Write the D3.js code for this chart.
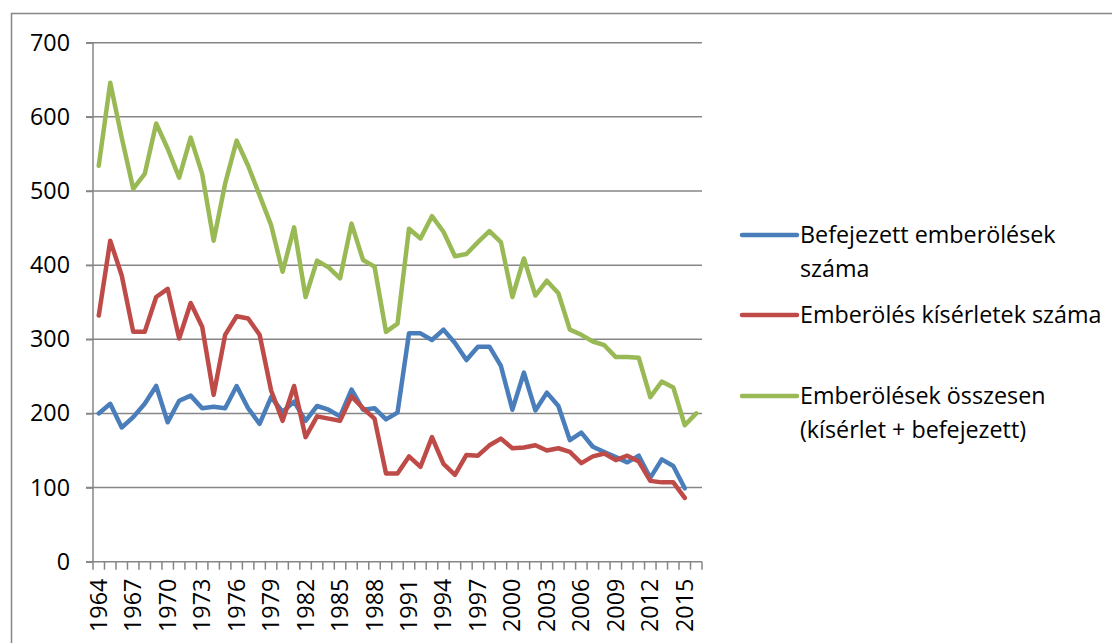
<!DOCTYPE html>
<html>
<head>
<meta charset="utf-8">
<script src="https://d3js.org/d3.v7.min.js"></script>
<style>
  body { margin: 0; background: #fff; }
  svg { display: block; font-family: "Open Sans", "Noto Sans", sans-serif; }
</style>
</head>
<body>
<svg width="1112" height="643"></svg>
<script>
// years on the category axis
var years = d3.range(1964, 2017);

// Befejezett emberölések száma (1964-2015)
var befejezett = [200, 213, 181, 195, 213, 237, 188, 217, 224, 207, 209, 207, 237, 207, 186, 222,
  202, 216, 190, 210, 205, 196, 232, 205, 207, 192, 201, 308, 308, 299, 313, 295, 272, 290, 290, 264,
  205, 255, 204, 228, 210, 164, 174, 155, 148, 141, 134, 143, 113, 138, 129, 99];

// Emberölés kísérletek száma (1964-2015)
var kiserlet = [332, 433, 386, 310, 310, 357, 368, 301, 349, 317, 225, 306, 331, 328, 306, 231,
  190, 237, 168, 196, 193, 190, 223, 207, 193, 119, 119, 142, 128, 168, 132, 117, 144, 143, 157, 166,
  153, 154, 157, 150, 153, 148, 133, 142, 146, 137, 143, 135, 109, 107, 107, 86];

// Emberölések összesen (1964-2016)
var osszesen = [534, 646, 572, 503, 523, 591, 557, 518, 572, 523, 433, 510, 568, 534, 494, 454,
  391, 451, 357, 406, 397, 382, 456, 407, 398, 310, 321, 449, 436, 466, 445, 412, 415, 431, 446, 431,
  357, 409, 359, 379, 362, 313, 306, 297, 292, 276, 276, 275, 222, 243, 235, 184, 200];

var yTicks = [0, 100, 200, 300, 400, 500, 600, 700];

var series = [
  { name: ['Befejezett emberölések', 'száma'], values: befejezett, color: '#4a7ebb' },
  { name: ['Emberölés kísérletek száma'], values: kiserlet, color: '#be4b48' },
  { name: ['Emberölések összesen', '(kísérlet + befejezett)'], values: osszesen, color: '#98b954' }
];

var FS = 23.3;
var svg = d3.select('svg');
var L = 93, R = 702, T = 42.7, B = 561.7;

// chart border (top and left visible)
svg.append('rect')
  .attr('x', 11.5).attr('y', 13.5)
  .attr('width', 1200).attr('height', 700)
  .attr('fill', 'none').attr('stroke', '#868686').attr('stroke-width', 1.5);

var x = d3.scaleBand().domain(years).range([L, R]);
var y = d3.scaleLinear().domain([0, 700]).range([B, T]);

// gridlines
svg.append('g')
  .selectAll('line').data(yTicks.filter(function (d) { return d > 0; }))
  .enter().append('line')
  .attr('x1', L - 7).attr('x2', R)
  .attr('y1', function (d) { return y(d); })
  .attr('y2', function (d) { return y(d); })
  .attr('stroke', '#868686').attr('stroke-width', 1.5);

// y axis
var yAxis = d3.axisLeft(y).tickValues(yTicks).tickSize(7).tickPadding(16);
var gy = svg.append('g').attr('transform', 'translate(' + L + ',0)').call(yAxis);
gy.select('.domain').attr('stroke', '#868686').attr('stroke-width', 1.5)
  .attr('d', 'M0,' + B + 'V' + T);
gy.selectAll('.tick line').attr('stroke', '#868686').attr('stroke-width', 1.5);
gy.selectAll('.tick text').attr('font-size', FS).attr('fill', '#000')
  .attr('font-family', '"Open Sans", "Noto Sans", sans-serif');

// x axis: ticks between categories
var boundaries = years.map(function (d) { return x(d); }).concat([R]);
var gx = svg.append('g');
gx.append('line')
  .attr('x1', L - 7).attr('x2', R)
  .attr('y1', B).attr('y2', B)
  .attr('stroke', '#868686').attr('stroke-width', 1.5);
gx.selectAll('line.tk').data(boundaries).enter().append('line')
  .attr('class', 'tk')
  .attr('x1', function (d) { return d; }).attr('x2', function (d) { return d; })
  .attr('y1', B).attr('y2', B + 8)
  .attr('stroke', '#868686').attr('stroke-width', 1.5);
gx.selectAll('text').data(years.filter(function (d) { return (d - 1964) % 3 === 0; }))
  .enter().append('text')
  .attr('transform', function (d) {
    return 'translate(' + (x(d) + x.bandwidth() / 2 + 8) + ',' + (B + 17) + ') rotate(-90)';
  })
  .attr('text-anchor', 'end')
  .attr('font-size', FS)
  .attr('fill', '#000')
  .text(function (d) { return d; });

// lines
var line = d3.line()
  .x(function (d, i) { return x(years[i]) + x.bandwidth() / 2; })
  .y(function (d) { return y(d); });

svg.append('g').selectAll('path').data(series).enter().append('path')
  .attr('d', function (s) { return line(s.values); })
  .attr('fill', 'none')
  .attr('stroke', function (s) { return s.color; })
  .attr('stroke-width', 4.5)
  .attr('stroke-linejoin', 'round')
  .attr('stroke-linecap', 'round');

// legend
var legendY = [235, 315, 396];
var lg = svg.append('g').selectAll('g').data(series).enter().append('g')
  .attr('transform', function (s, i) { return 'translate(742,' + legendY[i] + ')'; });
lg.append('line')
  .attr('x1', 0).attr('x2', 55).attr('y1', 0).attr('y2', 0)
  .attr('stroke', function (s) { return s.color; })
  .attr('stroke-width', 4.5).attr('stroke-linecap', 'round');
lg.each(function (s) {
  var g = d3.select(this);
  s.name.forEach(function (t, j) {
    g.append('text')
      .attr('x', 58).attr('y', 8 + j * 34)
      .attr('font-size', FS).attr('fill', '#000')
      .text(t);
  });
});
</script>
</body>
</html>
